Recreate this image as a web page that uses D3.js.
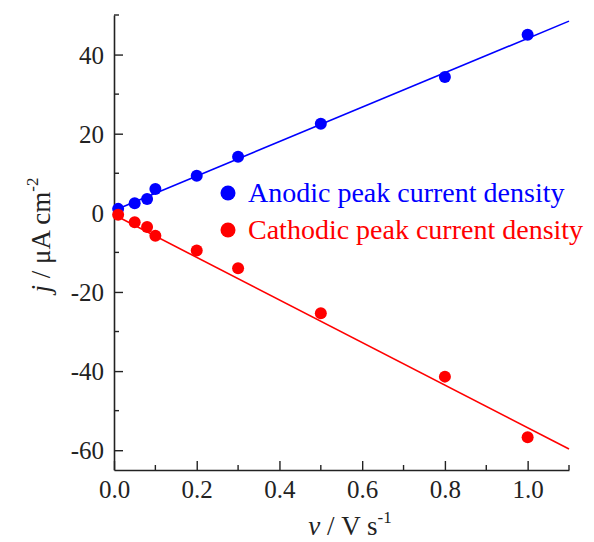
<!DOCTYPE html>
<html>
<head>
<meta charset="utf-8">
<script src="https://cdn.jsdelivr.net/npm/d3@7"></script>
<style>
  body { margin: 0; background: #fff; }
  svg text { font-family: "Times New Roman", "Liberation Serif", Times, serif; }
</style>
</head>
<body>
<script>
var width = 594;
var height = 542;
var margin = {top: 15, right: 25, bottom: 72, left: 114};

// scan rate (V/s)
var scanRates = [0.01, 0.05, 0.08, 0.1, 0.2, 0.3, 0.5, 0.8, 1.0];
// peak current densities (uA/cm2)
var anodic = [1.0, 2.4, 3.5, 6.0, 9.4, 14.2, 22.5, 34.3, 45.0];
var cathodic = [-0.5, -2.4, -3.6, -5.8, -9.5, -14.0, -25.4, -41.4, -56.7];
// linear fits [intercept, slope]
var anodicFit = [0.6, 43.5];
var cathodicFit = [-0.5, -53.8];

var xTicks = [0, 0.2, 0.4, 0.6, 0.8, 1.0];
var xMinor = [0.1, 0.3, 0.5, 0.7, 0.9, 1.1];
var yTicks = [-60, -40, -20, 0, 20, 40];
var yMinor = [-50, -30, -10, 10, 30, 50];

var series = [
    {name: "Anodic peak current density", values: anodic, fit: anodicFit, color: "#0000ff"},
    {name: "Cathodic peak current density", values: cathodic, fit: cathodicFit, color: "#ff0000"}
];

var fontFamily = "'Times New Roman', 'Liberation Serif', serif";
var axisColor = "#222";

var svg = d3.select("body").append("svg").attr("width", width).attr("height", height)
    .attr("font-family", fontFamily);

var x = d3.scaleLinear().domain([0, 1.1]).range([margin.left, width - margin.right]);
var y = d3.scaleLinear().domain([-65, 50]).range([height - margin.bottom, margin.top]);

// axes, ticks pointing inward
var xAxis = svg.append("g").attr("transform", "translate(0," + y(-65) + ")")
    .call(d3.axisTop(x).tickValues(xTicks).tickSize(9).tickSizeOuter(0)
        .tickFormat(function (d) { return d.toFixed(1); }));
xAxis.append("g").selectAll("line").data(xMinor).enter().append("line")
    .attr("x1", function (d) { return x(d); }).attr("x2", function (d) { return x(d); })
    .attr("y1", 0).attr("y2", -5);
xAxis.selectAll("text").attr("y", 28).attr("dy", 0).style("font-size", "25px").attr("fill", axisColor);

var yAxis = svg.append("g").attr("transform", "translate(" + x(0) + ",0)")
    .call(d3.axisRight(y).tickValues(yTicks).tickSize(9).tickSizeOuter(0)
        .tickFormat(function (d) { return String(d); }));
yAxis.append("g").selectAll("line").data(yMinor).enter().append("line")
    .attr("y1", function (d) { return y(d); }).attr("y2", function (d) { return y(d); })
    .attr("x1", 0).attr("x2", 5);
yAxis.selectAll("text").attr("x", -10).attr("dy", "0.35em").attr("text-anchor", "end")
    .style("font-size", "25px").attr("fill", axisColor);

svg.selectAll("g").attr("font-family", fontFamily);
svg.selectAll(".domain").attr("stroke", axisColor).attr("stroke-width", 1.6);
svg.selectAll(".tick line").attr("stroke", axisColor).attr("stroke-width", 1.4);
svg.selectAll("g g line").attr("stroke", axisColor).attr("stroke-width", 1.4);

// fit lines
svg.selectAll(".fit").data(series).enter().append("line")
    .attr("class", "fit")
    .attr("x1", x(0)).attr("x2", x(1.1))
    .attr("y1", function (d) { return y(d.fit[0]); })
    .attr("y2", function (d) { return y(d.fit[0] + d.fit[1] * 1.1); })
    .attr("stroke", function (d) { return d.color; })
    .attr("stroke-width", 1.6);

// points
series.forEach(function (s) {
    svg.append("g").selectAll("circle").data(s.values).enter().append("circle")
        .attr("cx", function (d, i) { return x(scanRates[i]); })
        .attr("cy", function (d) { return y(d); })
        .attr("r", 6)
        .attr("fill", s.color);
});

// legend
var legend = svg.append("g").selectAll("g").data(series).enter().append("g")
    .attr("transform", function (d, i) { return "translate(228," + (193 + i * 37) + ")"; });
legend.append("circle").attr("r", 7.5).attr("fill", function (d) { return d.color; });
legend.append("text").attr("x", 20).attr("y", 9)
    .style("font-size", "28px")
    .attr("fill", function (d) { return d.color; })
    .text(function (d) { return d.name; });

// axis titles
var xt = svg.append("text").attr("x", 350).attr("y", 535).attr("text-anchor", "middle")
    .style("font-size", "27px").attr("fill", axisColor);
xt.append("tspan").style("font-style", "italic").text("\u03bd");
xt.append("tspan").text(" / V s");
xt.append("tspan").attr("dy", -12).style("font-size", "17px").text("-1");

var yt = svg.append("text").attr("transform", "translate(50,235) rotate(-90)").attr("text-anchor", "middle")
    .style("font-size", "27px").attr("fill", axisColor);
yt.append("tspan").style("font-style", "italic").text("j");
yt.append("tspan").text(" / \u03bcA cm");
yt.append("tspan").attr("dy", -12).style("font-size", "17px").text("-2");
</script>
</body>
</html>
